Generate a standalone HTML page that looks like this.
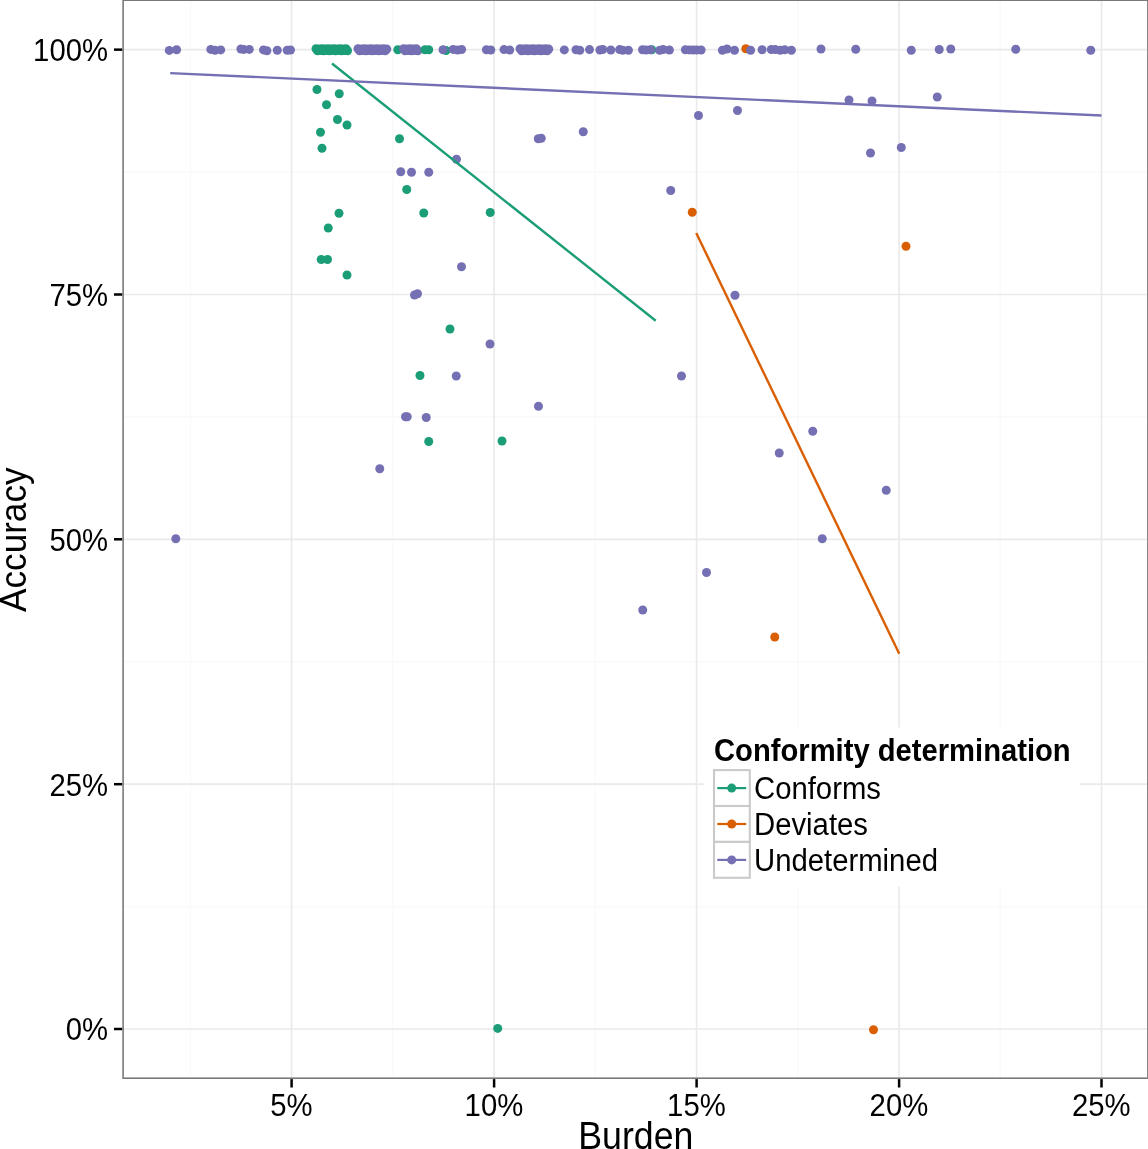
<!DOCTYPE html><html><head><meta charset="utf-8"><title>Accuracy vs Burden</title>
<style>html,body{margin:0;padding:0;background:#fff}svg{display:block}text{font-family:"Liberation Sans",Arial,Helvetica,sans-serif;fill:#000}</style></head><body>
<svg width="1148" height="1149" viewBox="0 0 1148 1149">
<rect width="1148" height="1149" fill="#fff"/>
<g stroke="#fafafa" stroke-width="1.6">
<line x1="123.1" x2="1147.9" y1="172.1" y2="172.1"/>
<line x1="123.1" x2="1147.9" y1="416.9" y2="416.9"/>
<line x1="123.1" x2="1147.9" y1="661.75" y2="661.75"/>
<line x1="123.1" x2="1147.9" y1="906.6" y2="906.6"/>
<line y1="0.2" y2="1078.2" x1="190.4" x2="190.4"/>
<line y1="0.2" y2="1078.2" x1="392.85" x2="392.85"/>
<line y1="0.2" y2="1078.2" x1="595.35" x2="595.35"/>
<line y1="0.2" y2="1078.2" x1="797.85" x2="797.85"/>
<line y1="0.2" y2="1078.2" x1="1000.3" x2="1000.3"/>
</g><g stroke="#eaeaea" stroke-width="1.7">
<line x1="123.1" x2="1147.9" y1="49.65" y2="49.65"/>
<line x1="123.1" x2="1147.9" y1="294.5" y2="294.5"/>
<line x1="123.1" x2="1147.9" y1="539.3" y2="539.3"/>
<line x1="123.1" x2="1147.9" y1="784.2" y2="784.2"/>
<line x1="123.1" x2="1147.9" y1="1029" y2="1029"/>
<line y1="0.2" y2="1078.2" x1="291.6" x2="291.6"/>
<line y1="0.2" y2="1078.2" x1="494.1" x2="494.1"/>
<line y1="0.2" y2="1078.2" x1="696.6" x2="696.6"/>
<line y1="0.2" y2="1078.2" x1="899.1" x2="899.1"/>
<line y1="0.2" y2="1078.2" x1="1101.5" x2="1101.5"/>
</g>
<circle cx="446.0" cy="50.5" r="4.5" fill="#1B9E77"/><circle cx="651.8" cy="49.8" r="4.5" fill="#1B9E77"/><circle cx="397.8" cy="49.8" r="4.5" fill="#1B9E77"/>
<circle cx="745.8" cy="48.8" r="4.5" fill="#D95F02"/>
<circle cx="169.3" cy="50.4" r="4.5" fill="#7570B3"/><circle cx="176.6" cy="49.7" r="4.5" fill="#7570B3"/><circle cx="210.8" cy="49.4" r="4.5" fill="#7570B3"/><circle cx="215" cy="50.3" r="4.5" fill="#7570B3"/><circle cx="220.7" cy="49.9" r="4.5" fill="#7570B3"/><circle cx="240.9" cy="49" r="4.5" fill="#7570B3"/><circle cx="243.8" cy="49.4" r="4.5" fill="#7570B3"/><circle cx="249.3" cy="49.4" r="4.5" fill="#7570B3"/><circle cx="263.5" cy="49.9" r="4.5" fill="#7570B3"/><circle cx="266.9" cy="50.7" r="4.5" fill="#7570B3"/><circle cx="277.3" cy="50.3" r="4.5" fill="#7570B3"/><circle cx="287.2" cy="50.3" r="4.5" fill="#7570B3"/><circle cx="290.5" cy="50" r="4.5" fill="#7570B3"/><circle cx="443" cy="49.7" r="4.5" fill="#7570B3"/><circle cx="453.2" cy="49.4" r="4.5" fill="#7570B3"/><circle cx="457.6" cy="50" r="4.5" fill="#7570B3"/><circle cx="461.6" cy="49.5" r="4.5" fill="#7570B3"/><circle cx="486.4" cy="49.8" r="4.5" fill="#7570B3"/><circle cx="490.8" cy="50" r="4.5" fill="#7570B3"/><circle cx="504" cy="49.6" r="4.5" fill="#7570B3"/><circle cx="509.7" cy="50" r="4.5" fill="#7570B3"/><circle cx="564.3" cy="49.9" r="4.5" fill="#7570B3"/><circle cx="576" cy="49.8" r="4.5" fill="#7570B3"/><circle cx="579.8" cy="50.3" r="4.5" fill="#7570B3"/><circle cx="589.5" cy="49.6" r="4.5" fill="#7570B3"/><circle cx="599.9" cy="50" r="4.5" fill="#7570B3"/><circle cx="602.7" cy="49.5" r="4.5" fill="#7570B3"/><circle cx="610.8" cy="50" r="4.5" fill="#7570B3"/><circle cx="619.6" cy="49.6" r="4.5" fill="#7570B3"/><circle cx="622.7" cy="50.2" r="4.5" fill="#7570B3"/><circle cx="628.4" cy="50.2" r="4.5" fill="#7570B3"/><circle cx="642.5" cy="49.8" r="4.5" fill="#7570B3"/><circle cx="646" cy="50" r="4.5" fill="#7570B3"/><circle cx="650.3" cy="49.8" r="4.5" fill="#7570B3"/><circle cx="659.7" cy="50.2" r="4.5" fill="#7570B3"/><circle cx="663.1" cy="49.5" r="4.5" fill="#7570B3"/><circle cx="669.4" cy="50" r="4.5" fill="#7570B3"/><circle cx="685.4" cy="49.7" r="4.5" fill="#7570B3"/><circle cx="689.2" cy="49.9" r="4.5" fill="#7570B3"/><circle cx="693" cy="50" r="4.5" fill="#7570B3"/><circle cx="696.7" cy="50.1" r="4.5" fill="#7570B3"/><circle cx="701.1" cy="50" r="4.5" fill="#7570B3"/><circle cx="722.4" cy="50.3" r="4.5" fill="#7570B3"/><circle cx="727" cy="49" r="4.5" fill="#7570B3"/><circle cx="734.5" cy="50.3" r="4.5" fill="#7570B3"/><circle cx="750.6" cy="50.3" r="4.5" fill="#7570B3"/><circle cx="762.1" cy="49.7" r="4.5" fill="#7570B3"/><circle cx="771.3" cy="49.5" r="4.5" fill="#7570B3"/><circle cx="775.3" cy="49.6" r="4.5" fill="#7570B3"/><circle cx="780.3" cy="50.3" r="4.5" fill="#7570B3"/><circle cx="784.7" cy="49.8" r="4.5" fill="#7570B3"/><circle cx="791.4" cy="50.3" r="4.5" fill="#7570B3"/><circle cx="821" cy="49" r="4.5" fill="#7570B3"/><circle cx="855.75" cy="49.25" r="4.5" fill="#7570B3"/><circle cx="911.25" cy="50.25" r="4.5" fill="#7570B3"/><circle cx="939.25" cy="49.5" r="4.5" fill="#7570B3"/><circle cx="950.75" cy="49" r="4.5" fill="#7570B3"/><circle cx="1015.75" cy="49.25" r="4.5" fill="#7570B3"/><circle cx="1090.75" cy="50.25" r="4.5" fill="#7570B3"/><circle cx="358.0" cy="48.7" r="4.5" fill="#7570B3"/><circle cx="359.6" cy="50.7" r="4.5" fill="#7570B3"/><circle cx="361.2" cy="49.1" r="4.5" fill="#7570B3"/><circle cx="362.8" cy="50.5" r="4.5" fill="#7570B3"/><circle cx="364.4" cy="48.7" r="4.5" fill="#7570B3"/><circle cx="366.0" cy="50.7" r="4.5" fill="#7570B3"/><circle cx="367.6" cy="49.1" r="4.5" fill="#7570B3"/><circle cx="369.2" cy="50.5" r="4.5" fill="#7570B3"/><circle cx="370.8" cy="48.7" r="4.5" fill="#7570B3"/><circle cx="372.4" cy="50.7" r="4.5" fill="#7570B3"/><circle cx="374.0" cy="49.1" r="4.5" fill="#7570B3"/><circle cx="375.6" cy="50.5" r="4.5" fill="#7570B3"/><circle cx="377.2" cy="48.7" r="4.5" fill="#7570B3"/><circle cx="378.8" cy="50.7" r="4.5" fill="#7570B3"/><circle cx="380.4" cy="49.1" r="4.5" fill="#7570B3"/><circle cx="382.0" cy="50.5" r="4.5" fill="#7570B3"/><circle cx="383.6" cy="48.7" r="4.5" fill="#7570B3"/><circle cx="385.2" cy="50.7" r="4.5" fill="#7570B3"/><circle cx="386.8" cy="49.1" r="4.5" fill="#7570B3"/><circle cx="403.5" cy="48.7" r="4.5" fill="#7570B3"/><circle cx="405.1" cy="50.7" r="4.5" fill="#7570B3"/><circle cx="406.7" cy="49.1" r="4.5" fill="#7570B3"/><circle cx="408.3" cy="50.5" r="4.5" fill="#7570B3"/><circle cx="409.9" cy="48.7" r="4.5" fill="#7570B3"/><circle cx="411.5" cy="50.7" r="4.5" fill="#7570B3"/><circle cx="413.1" cy="49.1" r="4.5" fill="#7570B3"/><circle cx="414.7" cy="50.5" r="4.5" fill="#7570B3"/><circle cx="416.3" cy="48.7" r="4.5" fill="#7570B3"/><circle cx="417.9" cy="50.7" r="4.5" fill="#7570B3"/><circle cx="520.0" cy="48.7" r="4.5" fill="#7570B3"/><circle cx="521.6" cy="50.7" r="4.5" fill="#7570B3"/><circle cx="523.2" cy="49.1" r="4.5" fill="#7570B3"/><circle cx="524.8" cy="50.5" r="4.5" fill="#7570B3"/><circle cx="526.4" cy="48.7" r="4.5" fill="#7570B3"/><circle cx="528.0" cy="50.7" r="4.5" fill="#7570B3"/><circle cx="529.6" cy="49.1" r="4.5" fill="#7570B3"/><circle cx="531.2" cy="50.5" r="4.5" fill="#7570B3"/><circle cx="532.8" cy="48.7" r="4.5" fill="#7570B3"/><circle cx="534.4" cy="50.7" r="4.5" fill="#7570B3"/><circle cx="536.0" cy="49.1" r="4.5" fill="#7570B3"/><circle cx="537.6" cy="50.5" r="4.5" fill="#7570B3"/><circle cx="539.2" cy="48.7" r="4.5" fill="#7570B3"/><circle cx="540.8" cy="50.7" r="4.5" fill="#7570B3"/><circle cx="542.4" cy="49.1" r="4.5" fill="#7570B3"/><circle cx="544.0" cy="50.5" r="4.5" fill="#7570B3"/><circle cx="545.6" cy="48.7" r="4.5" fill="#7570B3"/><circle cx="547.2" cy="50.7" r="4.5" fill="#7570B3"/><circle cx="548.8" cy="49.1" r="4.5" fill="#7570B3"/>
<circle cx="425" cy="49.8" r="4.5" fill="#1B9E77"/><circle cx="428.7" cy="49.8" r="4.5" fill="#1B9E77"/><circle cx="316.0" cy="48.7" r="4.5" fill="#1B9E77"/><circle cx="317.5" cy="50.7" r="4.5" fill="#1B9E77"/><circle cx="319.0" cy="49.1" r="4.5" fill="#1B9E77"/><circle cx="320.5" cy="50.5" r="4.5" fill="#1B9E77"/><circle cx="322.0" cy="48.7" r="4.5" fill="#1B9E77"/><circle cx="323.5" cy="50.7" r="4.5" fill="#1B9E77"/><circle cx="325.0" cy="49.1" r="4.5" fill="#1B9E77"/><circle cx="326.5" cy="50.5" r="4.5" fill="#1B9E77"/><circle cx="328.0" cy="48.7" r="4.5" fill="#1B9E77"/><circle cx="329.5" cy="50.7" r="4.5" fill="#1B9E77"/><circle cx="331.0" cy="49.1" r="4.5" fill="#1B9E77"/><circle cx="332.5" cy="50.5" r="4.5" fill="#1B9E77"/><circle cx="334.0" cy="48.7" r="4.5" fill="#1B9E77"/><circle cx="335.5" cy="50.7" r="4.5" fill="#1B9E77"/><circle cx="337.0" cy="49.1" r="4.5" fill="#1B9E77"/><circle cx="338.5" cy="50.5" r="4.5" fill="#1B9E77"/><circle cx="340.0" cy="48.7" r="4.5" fill="#1B9E77"/><circle cx="341.5" cy="50.7" r="4.5" fill="#1B9E77"/><circle cx="343.0" cy="49.1" r="4.5" fill="#1B9E77"/><circle cx="344.5" cy="50.5" r="4.5" fill="#1B9E77"/><circle cx="346.0" cy="48.7" r="4.5" fill="#1B9E77"/><circle cx="347.5" cy="50.7" r="4.5" fill="#1B9E77"/>
<circle cx="317" cy="89.5" r="4.5" fill="#1B9E77"/><circle cx="339.25" cy="93.75" r="4.5" fill="#1B9E77"/><circle cx="326.5" cy="104.75" r="4.5" fill="#1B9E77"/><circle cx="337.5" cy="119.5" r="4.5" fill="#1B9E77"/><circle cx="347" cy="125" r="4.5" fill="#1B9E77"/><circle cx="320.5" cy="132.25" r="4.5" fill="#1B9E77"/><circle cx="322" cy="148.25" r="4.5" fill="#1B9E77"/><circle cx="399.5" cy="138.75" r="4.5" fill="#1B9E77"/><circle cx="406.75" cy="189.5" r="4.5" fill="#1B9E77"/><circle cx="339" cy="213.25" r="4.5" fill="#1B9E77"/><circle cx="423.75" cy="213" r="4.5" fill="#1B9E77"/><circle cx="490.25" cy="212.5" r="4.5" fill="#1B9E77"/><circle cx="328.25" cy="228" r="4.5" fill="#1B9E77"/><circle cx="321.25" cy="259.5" r="4.5" fill="#1B9E77"/><circle cx="327.5" cy="259.5" r="4.5" fill="#1B9E77"/><circle cx="347" cy="275" r="4.5" fill="#1B9E77"/><circle cx="450" cy="329" r="4.5" fill="#1B9E77"/><circle cx="420" cy="375.5" r="4.5" fill="#1B9E77"/><circle cx="428.75" cy="441.5" r="4.5" fill="#1B9E77"/><circle cx="502" cy="441" r="4.5" fill="#1B9E77"/><circle cx="497.7" cy="1028.4" r="4.5" fill="#1B9E77"/>
<circle cx="400.75" cy="171.75" r="4.5" fill="#7570B3"/><circle cx="411.5" cy="172.25" r="4.5" fill="#7570B3"/><circle cx="428.75" cy="172.25" r="4.5" fill="#7570B3"/><circle cx="456.5" cy="159.25" r="4.5" fill="#7570B3"/><circle cx="538.25" cy="138.75" r="4.5" fill="#7570B3"/><circle cx="541.25" cy="138.25" r="4.5" fill="#7570B3"/><circle cx="461.5" cy="266.75" r="4.5" fill="#7570B3"/><circle cx="414.5" cy="295" r="4.5" fill="#7570B3"/><circle cx="417.5" cy="293.75" r="4.5" fill="#7570B3"/><circle cx="490" cy="344" r="4.5" fill="#7570B3"/><circle cx="456.25" cy="376" r="4.5" fill="#7570B3"/><circle cx="538.5" cy="406.25" r="4.5" fill="#7570B3"/><circle cx="405.5" cy="416.75" r="4.5" fill="#7570B3"/><circle cx="407.2" cy="416.75" r="4.5" fill="#7570B3"/><circle cx="426.25" cy="417.5" r="4.5" fill="#7570B3"/><circle cx="379.75" cy="468.75" r="4.5" fill="#7570B3"/><circle cx="175.8" cy="538.8" r="4.5" fill="#7570B3"/><circle cx="583.25" cy="131.75" r="4.5" fill="#7570B3"/><circle cx="698.5" cy="115.5" r="4.5" fill="#7570B3"/><circle cx="737.5" cy="110.5" r="4.5" fill="#7570B3"/><circle cx="849" cy="100" r="4.5" fill="#7570B3"/><circle cx="670.75" cy="190.5" r="4.5" fill="#7570B3"/><circle cx="735" cy="295.25" r="4.5" fill="#7570B3"/><circle cx="872" cy="101" r="4.5" fill="#7570B3"/><circle cx="937.25" cy="97" r="4.5" fill="#7570B3"/><circle cx="870.5" cy="153" r="4.5" fill="#7570B3"/><circle cx="901.3" cy="147.5" r="4.5" fill="#7570B3"/><circle cx="681.5" cy="376" r="4.5" fill="#7570B3"/><circle cx="812.75" cy="431.25" r="4.5" fill="#7570B3"/><circle cx="779.25" cy="453" r="4.5" fill="#7570B3"/><circle cx="886.25" cy="490.25" r="4.5" fill="#7570B3"/><circle cx="822.25" cy="538.75" r="4.5" fill="#7570B3"/><circle cx="706.5" cy="572.5" r="4.5" fill="#7570B3"/><circle cx="642.75" cy="610" r="4.5" fill="#7570B3"/>
<circle cx="692.25" cy="212.25" r="4.5" fill="#D95F02"/><circle cx="906" cy="246.25" r="4.5" fill="#D95F02"/><circle cx="774.75" cy="637" r="4.5" fill="#D95F02"/><circle cx="873.5" cy="1029.7" r="4.5" fill="#D95F02"/>
<g stroke-width="2.4" fill="none"><line x1="332" y1="63.5" x2="655.75" y2="320.75" stroke="#1B9E77"/>
<line x1="696.25" y1="233" x2="899.25" y2="653.75" stroke="#D95F02"/>
<line x1="170.2" y1="73.1" x2="1101.5" y2="115.5" stroke="#7570B3"/></g>
<rect x="704" y="727.5" width="375.5" height="159" fill="#fff"/>
<text transform="translate(714,761.0) scale(1,1.05)" font-size="29.2" text-anchor="start" font-weight="bold">Conformity determination</text>
<rect x="714" y="770.1" width="35.8" height="35.9" fill="#fff" stroke="#cacaca" stroke-width="2.1"/>
<line x1="717.3" x2="746.2" y1="788.1" y2="788.1" stroke="#1B9E77" stroke-width="2.2"/>
<circle cx="731.7" cy="788.1" r="4.5" fill="#1B9E77"/>
<text transform="translate(754,799.4) scale(1,1.08)" font-size="29.3" text-anchor="start">Conforms</text>
<rect x="714" y="806.0" width="35.8" height="35.9" fill="#fff" stroke="#cacaca" stroke-width="2.1"/>
<line x1="717.3" x2="746.2" y1="824.0" y2="824.0" stroke="#D95F02" stroke-width="2.2"/>
<circle cx="731.7" cy="824.0" r="4.5" fill="#D95F02"/>
<text transform="translate(754,835.2) scale(1,1.08)" font-size="29.3" text-anchor="start">Deviates</text>
<rect x="714" y="841.9" width="35.8" height="35.9" fill="#fff" stroke="#cacaca" stroke-width="2.1"/>
<line x1="717.3" x2="746.2" y1="859.9" y2="859.9" stroke="#7570B3" stroke-width="2.2"/>
<circle cx="731.7" cy="859.9" r="4.5" fill="#7570B3"/>
<text transform="translate(754,871.1) scale(1,1.08)" font-size="29.3" text-anchor="start">Undetermined</text>
<rect x="123.1" y="0.2" width="1024.8000000000002" height="1078.0" fill="none" stroke="#767676" stroke-width="1.55"/>
<g stroke="#000" stroke-width="2.5">
<line x1="114" x2="122.19999999999999" y1="49.65" y2="49.65"/>
<line x1="114" x2="122.19999999999999" y1="294.5" y2="294.5"/>
<line x1="114" x2="122.19999999999999" y1="539.3" y2="539.3"/>
<line x1="114" x2="122.19999999999999" y1="784.2" y2="784.2"/>
<line x1="114" x2="122.19999999999999" y1="1029" y2="1029"/>
<line y1="1079.1000000000001" y2="1087.5" x1="291.6" x2="291.6"/>
<line y1="1079.1000000000001" y2="1087.5" x1="494.1" x2="494.1"/>
<line y1="1079.1000000000001" y2="1087.5" x1="696.6" x2="696.6"/>
<line y1="1079.1000000000001" y2="1087.5" x1="899.1" x2="899.1"/>
<line y1="1079.1000000000001" y2="1087.5" x1="1101.5" x2="1101.5"/>
</g>
<text transform="translate(108,61.0) scale(1,1.1)" font-size="29.3" text-anchor="end">100%</text>
<text transform="translate(108,305.8) scale(1,1.1)" font-size="29.3" text-anchor="end">75%</text>
<text transform="translate(108,550.6) scale(1,1.1)" font-size="29.3" text-anchor="end">50%</text>
<text transform="translate(108,795.5) scale(1,1.1)" font-size="29.3" text-anchor="end">25%</text>
<text transform="translate(108,1040.3) scale(1,1.1)" font-size="29.3" text-anchor="end">0%</text>
<text transform="translate(291.4,1115.6) scale(1,1.07)" font-size="29.3" text-anchor="middle">5%</text>
<text transform="translate(493.9,1115.6) scale(1,1.07)" font-size="29.3" text-anchor="middle">10%</text>
<text transform="translate(696.4,1115.6) scale(1,1.07)" font-size="29.3" text-anchor="middle">15%</text>
<text transform="translate(898.9,1115.6) scale(1,1.07)" font-size="29.3" text-anchor="middle">20%</text>
<text transform="translate(1101.3,1115.6) scale(1,1.07)" font-size="29.3" text-anchor="middle">25%</text>
<text transform="translate(635.8,1148.6) scale(1,1.1)" font-size="35.7" text-anchor="middle">Burden</text>
<text transform="translate(26.2,539.7) rotate(-90) scale(1,1.05)" font-size="35.15" text-anchor="middle">Accuracy</text>
</svg></body></html>
